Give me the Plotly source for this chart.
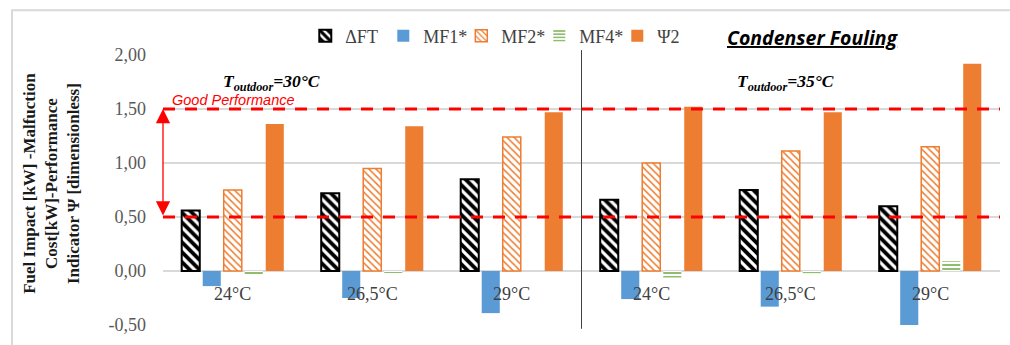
import plotly.graph_objects as go

# Groups: outdoor temperature blocks (30 °C, 35 °C) × condenser inlet temperature
categories = ["24°C", "26,5°C", "29°C", "24°C", "26,5°C", "29°C"]
outdoor_labels = ["T<sub>outdoor</sub>=30°C", "T<sub>outdoor</sub>=35°C"]

delta_ft = [0.56, 0.72, 0.85, 0.66, 0.75, 0.60]
mf1 = [-0.14, -0.25, -0.39, -0.26, -0.33, -0.51]
mf2 = [0.75, 0.95, 1.24, 1.00, 1.11, 1.15]
mf4 = [-0.03, -0.01, 0.00, -0.06, -0.02, 0.09]
psi2 = [1.36, 1.34, 1.47, 1.52, 1.47, 1.92]

y_tickvals = [-0.5, 0.0, 0.5, 1.0, 1.5, 2.0]
y_ticktext = ["-0,50", "0,00", "0,50", "1,00", "1,50", "2,00"]

good_band = [0.5, 1.5]

x = list(range(len(categories)))

BLUE = "#5B9BD5"
ORANGE = "#ED7D31"
GREEN = "#70AD47"
SERIF = "Liberation Serif"

fig = go.Figure()

fig.add_trace(go.Bar(
    x=x, y=delta_ft, name="ΔFT",
    marker=dict(color="white", line=dict(color="black", width=2),
                pattern=dict(shape="\\", fgcolor="black", bgcolor="white",
                             size=7, solidity=0.55, fillmode="replace")),
))
fig.add_trace(go.Bar(
    x=x, y=mf1, name="MF1*",
    marker=dict(color=BLUE, line=dict(width=0)),
))
fig.add_trace(go.Bar(
    x=x, y=mf2, name="MF2*",
    marker=dict(color="white", line=dict(color=ORANGE, width=1.5),
                pattern=dict(shape="\\", fgcolor=ORANGE, bgcolor="white",
                             size=5, solidity=0.3, fillmode="replace")),
))
fig.add_trace(go.Bar(
    x=x, y=mf4, name="MF4*",
    marker=dict(color="white", line=dict(width=0),
                pattern=dict(shape="-", fgcolor=GREEN, bgcolor="white",
                             size=4, solidity=0.4, fillmode="replace")),
))
fig.add_trace(go.Bar(
    x=x, y=psi2, name="Ψ2",
    marker=dict(color=ORANGE, line=dict(width=0)),
))

shapes = []
# Good-performance band limits
for yv in good_band:
    shapes.append(dict(type="line", xref="paper", yref="y", x0=0, x1=1, y0=yv, y1=yv,
                       line=dict(color="#FF0000", width=3, dash="12px,10px"), layer="above"))
# Separator between the two outdoor temperatures
shapes.append(dict(type="line", xref="x", yref="paper", x0=2.5, x1=2.5, y0=-0.014, y1=1.018,
                   line=dict(color="#404040", width=1)))
# Chart frame
shapes.append(dict(type="rect", xref="paper", yref="paper", x0=-0.1804, x1=1.2, y0=-0.3, y1=1.166,
                   line=dict(color="#D9D9D9", width=2), fillcolor="rgba(0,0,0,0)", layer="below"))

annotations = []
# Category labels next to the zero line
for xi, lab in zip(x, categories):
    annotations.append(dict(x=xi, y=0, xref="x", yref="y", text=lab, showarrow=False,
                            xanchor="center", yanchor="top", yshift=-11,
                            font=dict(family=SERIF, size=18, color="#404040")))
# Outdoor temperature headers
for xc, lab in zip([0.28, 3.96], outdoor_labels):
    annotations.append(dict(x=xc, y=1.75, xref="x", yref="y", text="<b><i>" + lab + "</i></b>",
                            showarrow=False, xanchor="center", yanchor="middle",
                            font=dict(family=SERIF, size=17.5, color="#000000")))
# Good performance label and arrow
annotations.append(dict(x=-0.45, y=1.5, xref="x", yref="y", text="<i>Good Performance</i>",
                        showarrow=False, xanchor="left", yanchor="bottom", yshift=-1,
                        font=dict(family="Liberation Sans", size=14.5, color="#FF0000")))
annotations.append(dict(x=-0.5, y=good_band[1], ax=-0.5, ay=good_band[0], xref="x", yref="y",
                        axref="x", ayref="y", text="", showarrow=True, arrowhead=2,
                        arrowside="end+start", arrowsize=2.2, arrowwidth=1.3, arrowcolor="#FF0000",
                        standoff=0, startstandoff=0))
# Title
annotations.append(dict(x=0.671, y=1.065, xref="paper", yref="paper",
                        text="<b><i><u>Condenser Fouling</u></i></b>", showarrow=False,
                        xanchor="left", yanchor="middle",
                        font=dict(family="Open Sans", size=19.5, color="#000000")))
# Y-axis title
annotations.append(dict(x=-0.1326, y=0.523, xref="paper", yref="paper", textangle=-90,
                        text="<b>Fuel Impact [kW] -Malfuction<br>Cost[kW]-Performance<br>"
                             "Indicator Ψ [dimensionless]</b>",
                        showarrow=False, xanchor="center", yanchor="middle",
                        font=dict(family=SERIF, size=17, color="#1a1a1a")))

fig.update_layout(
    width=1010, height=345,
    margin=dict(l=163, r=10, t=55, b=13),
    paper_bgcolor="white", plot_bgcolor="white",
    barmode="group", bargap=0.247, bargroupgap=0.14,
    showlegend=True,
    legend=dict(orientation="h", x=0.17, y=1.07, xanchor="left", yanchor="middle",
                font=dict(family=SERIF, size=18, color="#404040"),
                itemwidth=30, entrywidth=33, entrywidthmode="pixels",
                bgcolor="rgba(0,0,0,0)", traceorder="normal"),
    xaxis=dict(range=[-0.5, 5.5], showticklabels=False, showgrid=False, zeroline=False,
               showline=False, ticks=""),
    yaxis=dict(range=[-0.5, 2.0], tickvals=y_tickvals, ticktext=y_ticktext,
               showgrid=True, gridcolor="#D9D9D9", gridwidth=1.5, zeroline=False,
               showline=False, ticks="", ticklabelstandoff=16,
               tickfont=dict(family=SERIF, size=18, color="#595959")),
    shapes=shapes,
    annotations=annotations,
)

fig.write_html("out.html")
